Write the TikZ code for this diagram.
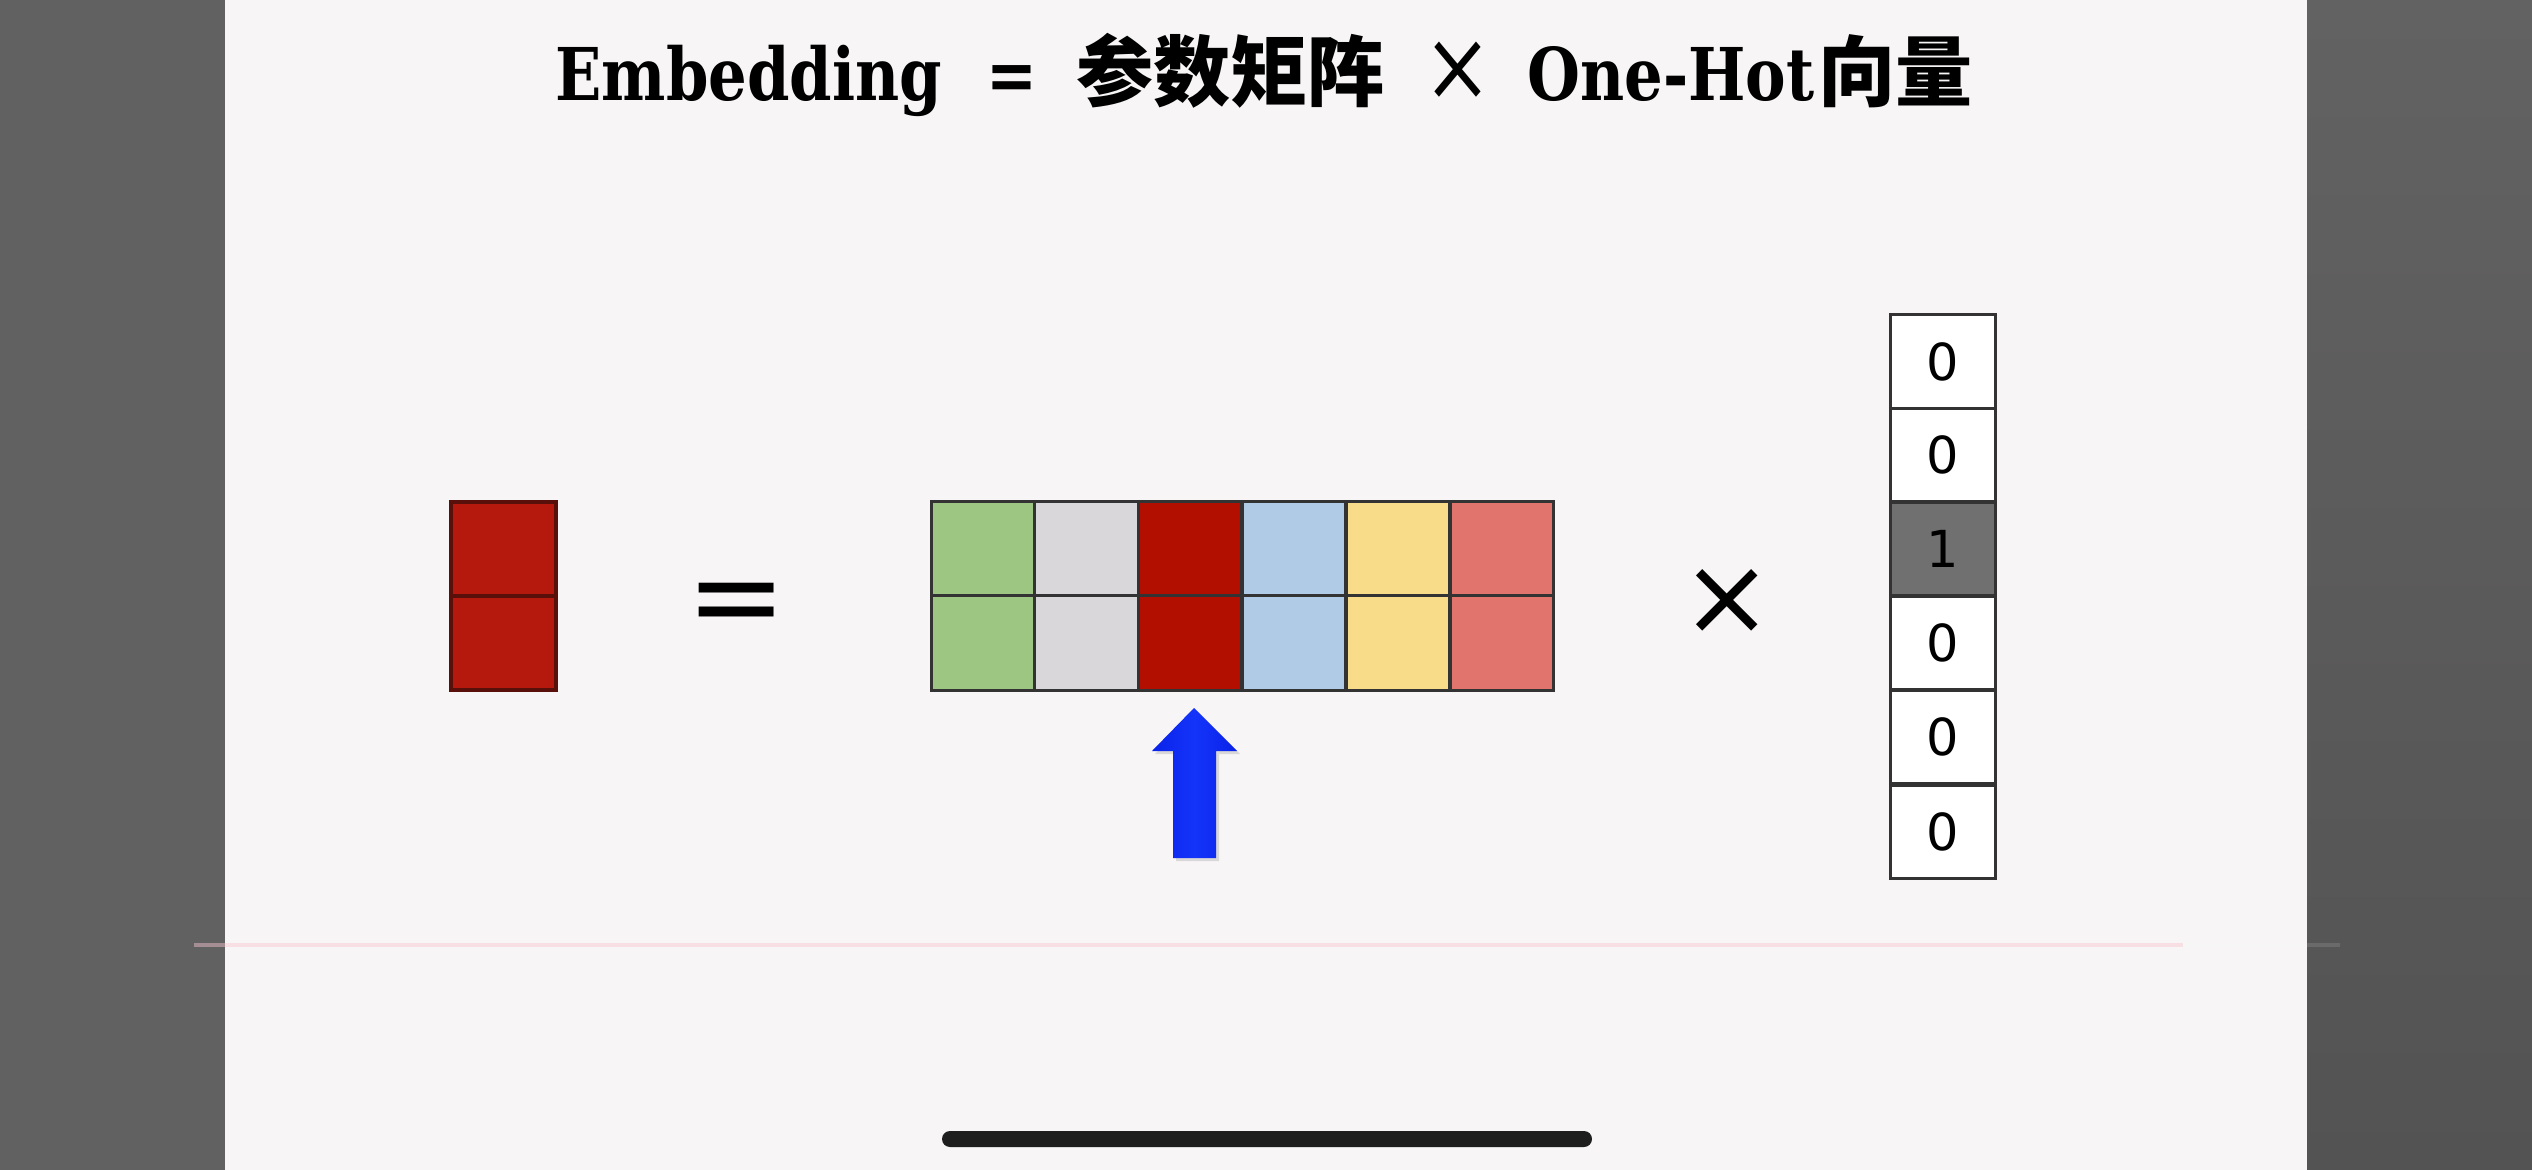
\documentclass[tikz,border=0pt]{standalone}
\usepackage{fontspec}
\setmainfont{DejaVu Sans}
\newfontfamily\titlefont[FakeStretch=0.835]{DejaVu Serif}
\newfontfamily\cjk[Scale=1.06]{Noto Sans CJK SC}
\usetikzlibrary{shadows}
\definecolor{panel}{HTML}{F7F5F6}
\definecolor{sideleft}{HTML}{626161}
\definecolor{sidetop}{HTML}{636262}
\definecolor{sidebottom}{HTML}{545353}
\definecolor{embred}{HTML}{B5190D}
\definecolor{embredline}{HTML}{5A100A}
\definecolor{cgreen}{HTML}{9DC682}
\definecolor{cgray}{HTML}{D9D7D9}
\definecolor{cred}{HTML}{B30F00}
\definecolor{cblue}{HTML}{AFCBE5}
\definecolor{cyellow}{HTML}{F8DC8A}
\definecolor{csalmon}{HTML}{E2746E}
\definecolor{gridline}{HTML}{333333}
\definecolor{onecell}{HTML}{707070}
\definecolor{arrowblue}{HTML}{0A22E8}
\definecolor{arrowlight}{HTML}{1434FA}
\definecolor{pinkline}{HTML}{F7C6D0}
\definecolor{homebar}{HTML}{1E1E1E}
\tikzset{
  mcell/.style={draw=gridline, line width=0.03cm, minimum width=1.037cm, minimum height=0.94cm, inner sep=0pt, fill=#1},
  ecell/.style={draw=embredline, line width=0.035cm, minimum width=1.05cm, minimum height=0.94cm, inner sep=0pt, fill=embred},
  vcell/.style={draw=gridline, line width=0.03cm, minimum width=1.04cm, minimum height=0.937cm, inner sep=0pt, fill=#1, font=\fontsize{14.5pt}{16pt}\selectfont},
  opsym/.style={inner sep=0pt, font=\fontsize{#1}{36pt}\selectfont},
}
\begin{document}
\begin{tikzpicture}[x=0.01cm,y=-0.01cm]
\useasboundingbox (0,0) rectangle (2532,1170);
% screen background
\fill[sideleft] (0,0) rectangle (225,1170);
\shade[top color=sidetop, bottom color=sidebottom] (2307,0) rectangle (2532,1170);
\fill[panel] (225,0) rectangle (2307,1170);
\draw[pinkline, opacity=0.45, line width=0.045cm] (194,945) -- (2183,945);
\draw[white, opacity=0.12, line width=0.045cm] (2183,945) -- (2340,945);
\fill[homebar, rounded corners=0.08cm] (942,1131) rectangle (1592,1147);
% title
\node[inner sep=0pt, font=\fontsize{20.7pt}{24pt}\selectfont] (title) at (1264,75)
  {\titlefont\bfseries Embedding\hspace{12.6pt}=\hspace{11pt}{\cjk\bfseries 参数矩阵}\hspace{11pt}{\mdseries\fontsize{28pt}{24pt}\selectfont ×}\hspace{10pt}One-Hot\hspace{1pt}{\cjk\bfseries 向量}};
% embedding column
\node[ecell] (e1) at (503.5,549) {};
\node[ecell] (e2) at (503.5,643) {};
% equals
\node[opsym=34pt] (eq) at (737,610) {=};
% parameter matrix
\foreach \c/\x/\col in {1/983/cgreen,2/1086.5/cgray,3/1190/cred,4/1294/cblue,5/1398/cyellow,6/1502/csalmon}{
  \node[mcell=\col] (m1\c) at (\x,549) {};
  \node[mcell=\col] (m2\c) at (\x,643) {};
}
% selection arrow
\shade[left color=arrowblue, right color=arrowblue, middle color=arrowlight,
       drop shadow={opacity=0.25, shadow xshift=0.03cm, shadow yshift=-0.03cm}]
  (1194,708) -- (1237,751) -- (1216,751) -- (1216,858) -- (1173,858) -- (1173,751) -- (1152,751) -- cycle;
% times
\node[opsym=31pt] (times) at (1727,602) {×};
% one-hot vector
\foreach \r/\y/\v/\col in {1/361.5/0/white,2/455/0/white,3/549/1/onecell,4/643/0/white,5/737/0/white,6/832/0/white}{
  \node[vcell=\col] (v\r) at (1943,\y) {\v};
}
\end{tikzpicture}
\end{document}
